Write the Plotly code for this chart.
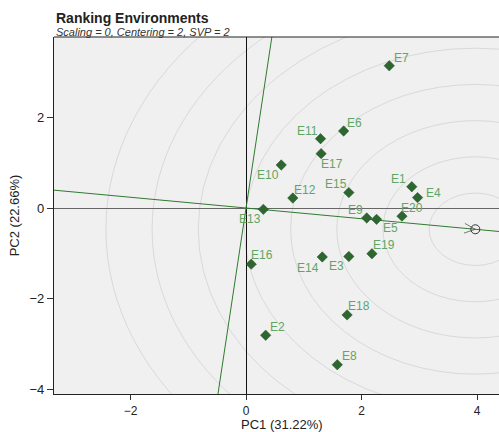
import numpy as np
import plotly.graph_objects as go

# Environment scores on the first two principal components
env_names = ["E1", "E2", "E3", "E4", "E5", "E6", "E7", "E8", "E9", "E10",
             "E11", "E12", "E13", "E14", "E15", "E16", "E17", "E18", "E19", "E20"]
pc1 = [2.87, 0.34, 1.78, 2.97, 2.26, 1.69, 2.48, 1.58, 2.09, 0.61,
       1.29, 0.81, 0.30, 1.32, 1.78, 0.09, 1.30, 1.75, 2.18, 2.70]
pc2 = [0.47, -2.81, -1.07, 0.23, -0.25, 1.70, 3.14, -3.46, -0.22, 0.95,
       1.53, 0.22, -0.03, -1.08, 0.34, -1.24, 1.20, -2.36, -1.01, -0.18]

# Average environment (ideal) coordinates
aea = (3.97, -0.47)

x_ticks = [-2, 0, 2, 4]
y_ticks = [-4, -2, 0, 2]
x_range = [-3.325, 4.38]
y_range = [-4.106, 3.775]

title_text = "Ranking Environments"
subtitle_text = "Scaling = 0, Centering = 2, SVP = 2"
x_title = "PC1 (31.22%)"
y_title = "PC2 (22.66%)"

# Label placement around each marker (pixel offsets: right, down)
LABEL_OFFSETS = {
    "E1": (-13, -8), "E2": (12, -8), "E3": (-12, 10), "E4": (16, -5),
    "E5": (14, 9), "E6": (11, -8), "E7": (12, -8), "E8": (12, -9),
    "E9": (-11, -8), "E10": (-13, 10), "E11": (-13, -8), "E12": (12, -8),
    "E13": (-13, 10), "E14": (-14, 11), "E15": (-13, -9), "E16": (11, -9),
    "E17": (11, 10), "E18": (12, -9), "E19": (12, -9), "E20": (10, -8),
}

FONT = "Liberation Sans, Arial, sans-serif"
LINE_GREEN = "#2f7a2f"
POINT_GREEN = "#2e6630"
LABEL_GREEN = "#62a562"

# Panel geometry (pixels)
M_L, M_T, M_B, W, H = 54, 37, 38, 499, 432
PLOT_W = W - M_L
PLOT_H = H - M_T - M_B
ppx = PLOT_W / (x_range[1] - x_range[0])
ppy = PLOT_H / (y_range[1] - y_range[0])

fig = go.Figure()

# Concentric rings around the ideal environment
ax_, ay_ = aea
aea_len = float(np.hypot(ax_, ay_))
step = aea_len / 5
shapes = []
for k in range(1, 9):
    r = step * k
    shapes.append(dict(type="circle", xref="x", yref="y",
                       x0=ax_ - r, x1=ax_ + r, y0=ay_ - r, y1=ay_ + r,
                       line=dict(color="#d9d9d9", width=1), layer="below"))

# Average-environment axis through origin, and its perpendicular
ux, uy = ax_ / aea_len, ay_ / aea_len
t_lo = x_range[0] / ux
t_hi = x_range[1] / ux
fig.add_trace(go.Scatter(x=[t_lo * ux, t_hi * ux], y=[t_lo * uy, t_hi * uy],
                         mode="lines", line=dict(color=LINE_GREEN, width=1),
                         hoverinfo="skip", showlegend=False))
px_, py_ = -uy, ux
s_lo = y_range[0] / py_
s_hi = y_range[1] / py_
fig.add_trace(go.Scatter(x=[s_lo * px_, s_hi * px_], y=[s_lo * py_, s_hi * py_],
                         mode="lines", line=dict(color=LINE_GREEN, width=1),
                         hoverinfo="skip", showlegend=False))

# Environment markers
fig.add_trace(go.Scatter(
    x=pc1, y=pc2, mode="markers", text=env_names, hoverinfo="text",
    marker=dict(symbol="diamond", size=8, color=POINT_GREEN,
                line=dict(color="#1f4d21", width=0.5)),
    showlegend=False))

# Ideal environment marker with an open arrowhead pointing at it
fig.add_trace(go.Scatter(x=[ax_], y=[ay_], mode="markers",
                         marker=dict(symbol="circle-open", size=9,
                                     color="#333333", line=dict(width=1)),
                         hoverinfo="skip", showlegend=False))
dxp, dyp = ax_ * ppx, -ay_ * ppy
nn = np.hypot(dxp, dyp)
bx, by = -dxp / nn, -dyp / nn
head_x, head_y = [], []
for ang in (np.radians(24), -np.radians(24)):
    vx = 12 * (bx * np.cos(ang) - by * np.sin(ang))
    vy = 12 * (bx * np.sin(ang) + by * np.cos(ang))
    head_x += [ax_ + vx / ppx, ax_, None]
    head_y += [ay_ - vy / ppy, ay_, None]
fig.add_trace(go.Scatter(x=head_x, y=head_y, mode="lines",
                         line=dict(color="#555555", width=0.8),
                         hoverinfo="skip", showlegend=False))

annotations = []
for name, x, y in zip(env_names, pc1, pc2):
    dx, dy = LABEL_OFFSETS[name]
    annotations.append(dict(x=x, y=y, xref="x", yref="y", text=name,
                            showarrow=False, xanchor="center", yanchor="middle",
                            xshift=dx, yshift=-dy,
                            font=dict(family=FONT, size=12, color=LABEL_GREEN)))

annotations += [
    dict(x=0, y=1 + (M_T - 18.5) / PLOT_H, xref="paper", yref="paper",
         xanchor="left", yanchor="middle", showarrow=False,
         text="<b>" + title_text + "</b>",
         font=dict(family=FONT, size=14, color="#222222")),
    dict(x=0, y=1 + (M_T - 31.5) / PLOT_H, xref="paper", yref="paper",
         xanchor="left", yanchor="middle", showarrow=False,
         text="<i>" + subtitle_text + "</i>",
         font=dict(family=FONT, size=11, color="#333333")),
    dict(x=(282 - M_L) / PLOT_W, y=-(424 - (H - M_B)) / PLOT_H,
         xref="paper", yref="paper",
         xanchor="center", yanchor="middle", showarrow=False, text=x_title,
         font=dict(family=FONT, size=13, color="#222222")),
]

# Top border of the panel
shapes.append(dict(type="line", xref="paper", yref="paper", x0=0, x1=1, y0=1, y1=1,
                   line=dict(color="#222222", width=1.2)))

fig.update_layout(
    width=W, height=H,
    margin=dict(l=M_L, r=0, t=M_T, b=M_B),
    paper_bgcolor="white", plot_bgcolor="#f0f0f0",
    shapes=shapes, annotations=annotations,
    font=dict(family=FONT, size=12, color="#222222"),
    xaxis=dict(range=x_range, tickvals=x_ticks, ticks="outside", ticklen=5,
               tickcolor="#333333", showgrid=False,
               zeroline=True, zerolinecolor="#111111", zerolinewidth=1,
               showline=True, linecolor="#222222", linewidth=1.2,
               tickfont=dict(family=FONT, size=12, color="#222222")),
    yaxis=dict(range=y_range, tickvals=y_ticks, ticks="outside", ticklen=6,
               tickcolor="#333333", showgrid=False,
               zeroline=True, zerolinecolor="#666666", zerolinewidth=1,
               showline=True, linecolor="#222222", linewidth=1.2,
               title=dict(text=y_title, standoff=6,
                          font=dict(family=FONT, size=13, color="#222222")),
               tickfont=dict(family=FONT, size=13, color="#222222")),
)

fig.write_html("out.html")
